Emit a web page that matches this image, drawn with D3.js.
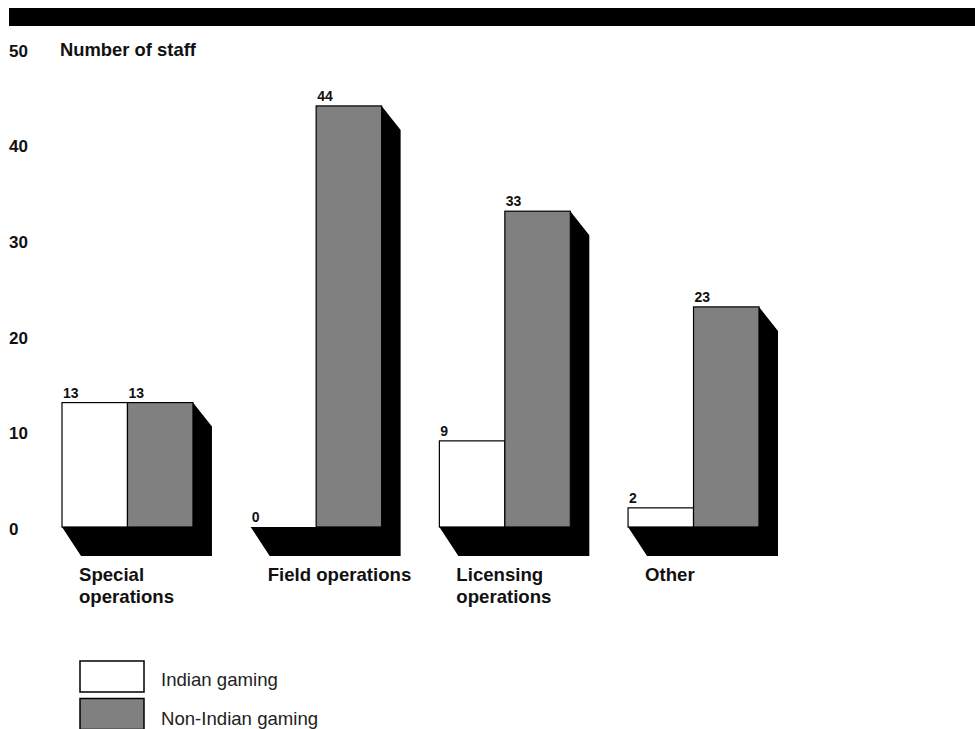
<!DOCTYPE html>
<html>
<head>
<meta charset="utf-8">
<script src="https://cdn.jsdelivr.net/npm/d3@7"></script>
<style>
  html, body { margin: 0; padding: 0; background: #fff; }
  svg { display: block; font-family: "Liberation Sans", Arial, Helvetica, sans-serif; }
</style>
</head>
<body>
<svg id="chart" width="975" height="729"></svg>
<script>
const categories = ["Special operations", "Field operations", "Licensing operations", "Other"];
const categoryLines = [["Special", "operations"], ["Field operations"], ["Licensing", "operations"], ["Other"]];
const seriesNames = ["Indian gaming", "Non-Indian gaming"];
const indianGaming = [13, 0, 9, 2];
const nonIndianGaming = [13, 44, 33, 23];
const yTicks = [0, 10, 20, 30, 40, 50];
const yTitle = "Number of staff";

const seriesValues = [indianGaming, nonIndianGaming];
const colors = ["#ffffff", "#808080"];

const svg = d3.select("#chart");

// top black banner
svg.append("rect").attr("x", 9).attr("y", 8).attr("width", 966).attr("height", 18).attr("fill", "#000");

const y = d3.scaleLinear().domain([0, 50]).range([527, 48.5]);
const x = d3.scaleBand().domain(categories).range([62, 759]).paddingInner(0.306).paddingOuter(0);
const xs = d3.scaleBand().domain(seriesNames).range([0, x.bandwidth()]).padding(0);

// y tick labels
svg.append("g").selectAll("text").data(yTicks).join("text")
  .attr("x", 9).attr("y", d => y(d) + 8)
  .attr("font-size", 17).attr("font-weight", "bold").attr("fill", "#111")
  .text(d => d);

svg.append("text").attr("x", 60).attr("y", 56)
  .attr("font-size", 18.4).attr("font-weight", "bold").attr("fill", "#111")
  .text(yTitle);

const dx = 19, dyTop = 24, dyBot = 29;
const base = y(0);

const groups = svg.append("g").selectAll("g").data(categories).join("g");

// shadows
groups.append("path")
  .attr("fill", "#000")
  .attr("d", (c, i) => {
    const x0 = x(c), x1 = x(c) + x.bandwidth();
    const yt = y(nonIndianGaming[i]);
    return `M${x1},${yt}L${x1 + dx},${yt + dyTop}L${x1 + dx},${base + dyBot}L${x0 + dx},${base + dyBot}L${x0},${base}L${x1},${base}Z`;
  });

// bars
seriesNames.forEach((s, si) => {
  groups.append("rect")
    .attr("x", c => x(c) + xs(s))
    .attr("y", (c, i) => y(seriesValues[si][i]))
    .attr("width", xs.bandwidth())
    .attr("height", (c, i) => base - y(seriesValues[si][i]))
    .attr("fill", colors[si])
    .attr("stroke", "#000")
    .attr("stroke-width", 1.2);
  groups.append("text")
    .attr("x", c => x(c) + xs(s) + 1)
    .attr("y", (c, i) => y(seriesValues[si][i]) - 5)
    .attr("font-size", 14).attr("font-weight", "bold").attr("fill", "#111")
    .text((c, i) => seriesValues[si][i]);
});

// category labels
groups.each(function (c, i) {
  const t = d3.select(this).append("text")
    .attr("font-size", 18.6).attr("font-weight", "bold").attr("fill", "#111");
  categoryLines[i].forEach((line, li) => {
    t.append("tspan").attr("x", x(c) + 17).attr("y", 581 + li * 21.5).text(line);
  });
});

// legend
const legend = svg.append("g").selectAll("g").data(seriesNames).join("g");
legend.append("rect")
  .attr("x", 80).attr("y", (d, i) => 661 + i * 37.5)
  .attr("width", 64).attr("height", 31)
  .attr("fill", (d, i) => colors[i]).attr("stroke", "#000").attr("stroke-width", 1.5);
legend.append("text")
  .attr("x", 161).attr("y", (d, i) => 686 + i * 38.5)
  .attr("font-size", 18.6).attr("fill", "#222")
  .text(d => d);
</script>
</body>
</html>
